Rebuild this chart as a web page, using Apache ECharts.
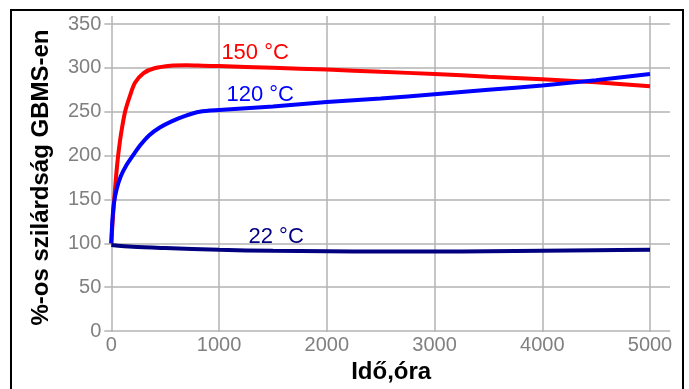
<!DOCTYPE html>
<html>
<head>
<meta charset="utf-8">
<script src="https://cdn.jsdelivr.net/npm/echarts@6/dist/echarts.min.js"></script>
<style>html,body{margin:0;padding:0;background:#fff}#c{width:689px;height:389px}</style>
</head>
<body>
<div id="c"></div>
<script>
// ---- data ----
var xTicks = [0, 1000, 2000, 3000, 4000, 5000];
var yTicks = [0, 50, 100, 150, 200, 250, 300, 350];
var s150 = [[0,100],[10,120],[25,147],[45,177],[60,196],[80,216],[100,232],[130,251],[170,267],[220,283],[300,294],[400,299.5],[550,302.5],[700,303],[850,302.5],[1000,302],[1500,300],[2000,298],[2500,295.5],[3000,293],[3500,290],[4000,287],[4500,283.5],[5000,279]];
var s120 = [[0,100],[10,126],[25,146],[50,162],[90,177],[140,189],[200,200],[270,212],[350,223],[450,232],[560,239],[680,245],[820,250],[1000,252],[1500,256],[2000,261],[2500,265],[3000,270],[3500,275],[4000,280],[4500,286],[5000,293]];
var s22 = [[0,98],[200,96],[500,94.5],[1000,92.5],[1500,91.5],[2000,91],[2500,90.5],[3000,90.5],[3500,91],[4000,91.5],[4500,92],[5000,92.5]];
var seriesNames = ['150 °C', '120 °C', '22 °C'];
var labelPos = [[1335,317],[1382,269],[1530,107]];
var xName = 'Idő,óra';
var yName = '%-os szilárdság GBMS-en';

// ---- layout ----
var FONT = 'Liberation Sans, Arial, sans-serif';
var L = 111.3, X5000 = 650, XR = 670;     // pixel geometry
var Y0 = 331, Y350 = 24, YT = 16;
var xMaxExt = 5000 * (XR - L) / (X5000 - L);
var yMaxExt = 350 * (Y0 - YT) / (Y0 - Y350);
var grey = '#b3b3b3';
var labGrey = '#808080';

var chart = echarts.init(document.getElementById('c'), null, {renderer: 'canvas'});
function mk(name, data, color, pos) {
  return {
    name: name, type: 'line', xAxisIndex: 0, yAxisIndex: 0,
    data: data, smooth: 0.3, showSymbol: false, symbol: 'none',
    lineStyle: {color: color, width: 4}, itemStyle: {color: color},
    z: 5,
    markPoint: {
      symbol: 'circle', symbolSize: 0, silent: true,
      data: [{coord: pos, value: name}],
      label: {show: true, formatter: name, color: color, fontSize: 22, fontFamily: FONT, position: 'inside'}
    }
  };
}
chart.setOption({
  animation: false,
  grid: [
    {left: L, top: Y350, width: XR - L, height: Y0 - Y350, containLabel: false},
    {left: L, top: YT, width: X5000 - L, height: Y0 - YT, containLabel: false}
  ],
  xAxis: [
    {gridIndex: 0, type: 'value', min: 0, max: xMaxExt, show: false},
    {gridIndex: 1, type: 'value', min: 0, max: 5000, interval: 1000,
     axisLine: {show: false},
     axisTick: {show: true, length: 7, lineStyle: {color: grey, width: 1.5}},
     splitLine: {show: true, lineStyle: {color: grey, width: 1.5}},
     axisLabel: {color: labGrey, fontSize: 20, fontFamily: FONT, margin: 10, formatter: function (v) { return String(v); }},
     name: xName, nameLocation: 'middle', nameGap: 32,
     nameTextStyle: {color: '#000', fontWeight: 'bold', fontSize: 24, fontFamily: FONT, padding: [0, 0, 0, 21]}}
  ],
  yAxis: [
    {gridIndex: 0, type: 'value', min: 0, max: 350, interval: 50,
     axisLine: {show: false},
     axisTick: {show: true, length: 7, lineStyle: {color: grey, width: 1.5}},
     splitLine: {show: true, lineStyle: {color: grey, width: 1.5}},
     axisLabel: {color: labGrey, fontSize: 20, fontFamily: FONT, margin: 10},
     name: yName, nameLocation: 'middle', nameGap: 58, nameRotate: 90,
     nameTextStyle: {color: '#000', fontWeight: 'bold', fontSize: 24, fontFamily: FONT}},
    {gridIndex: 1, type: 'value', min: 0, max: yMaxExt, show: false}
  ],
  series: [
    mk(seriesNames[0], s150, '#ff0000', labelPos[0]),
    mk(seriesNames[1], s120, '#0000ff', labelPos[1]),
    mk(seriesNames[2], s22, '#000080', labelPos[2])
  ],
  graphic: [
    {type: 'rect', shape: {x: 11, y: 10, width: 672, height: 400}, style: {fill: 'none', stroke: '#000', lineWidth: 2}, silent: true, z: 100}
  ]
});
</script>
</body>
</html>
